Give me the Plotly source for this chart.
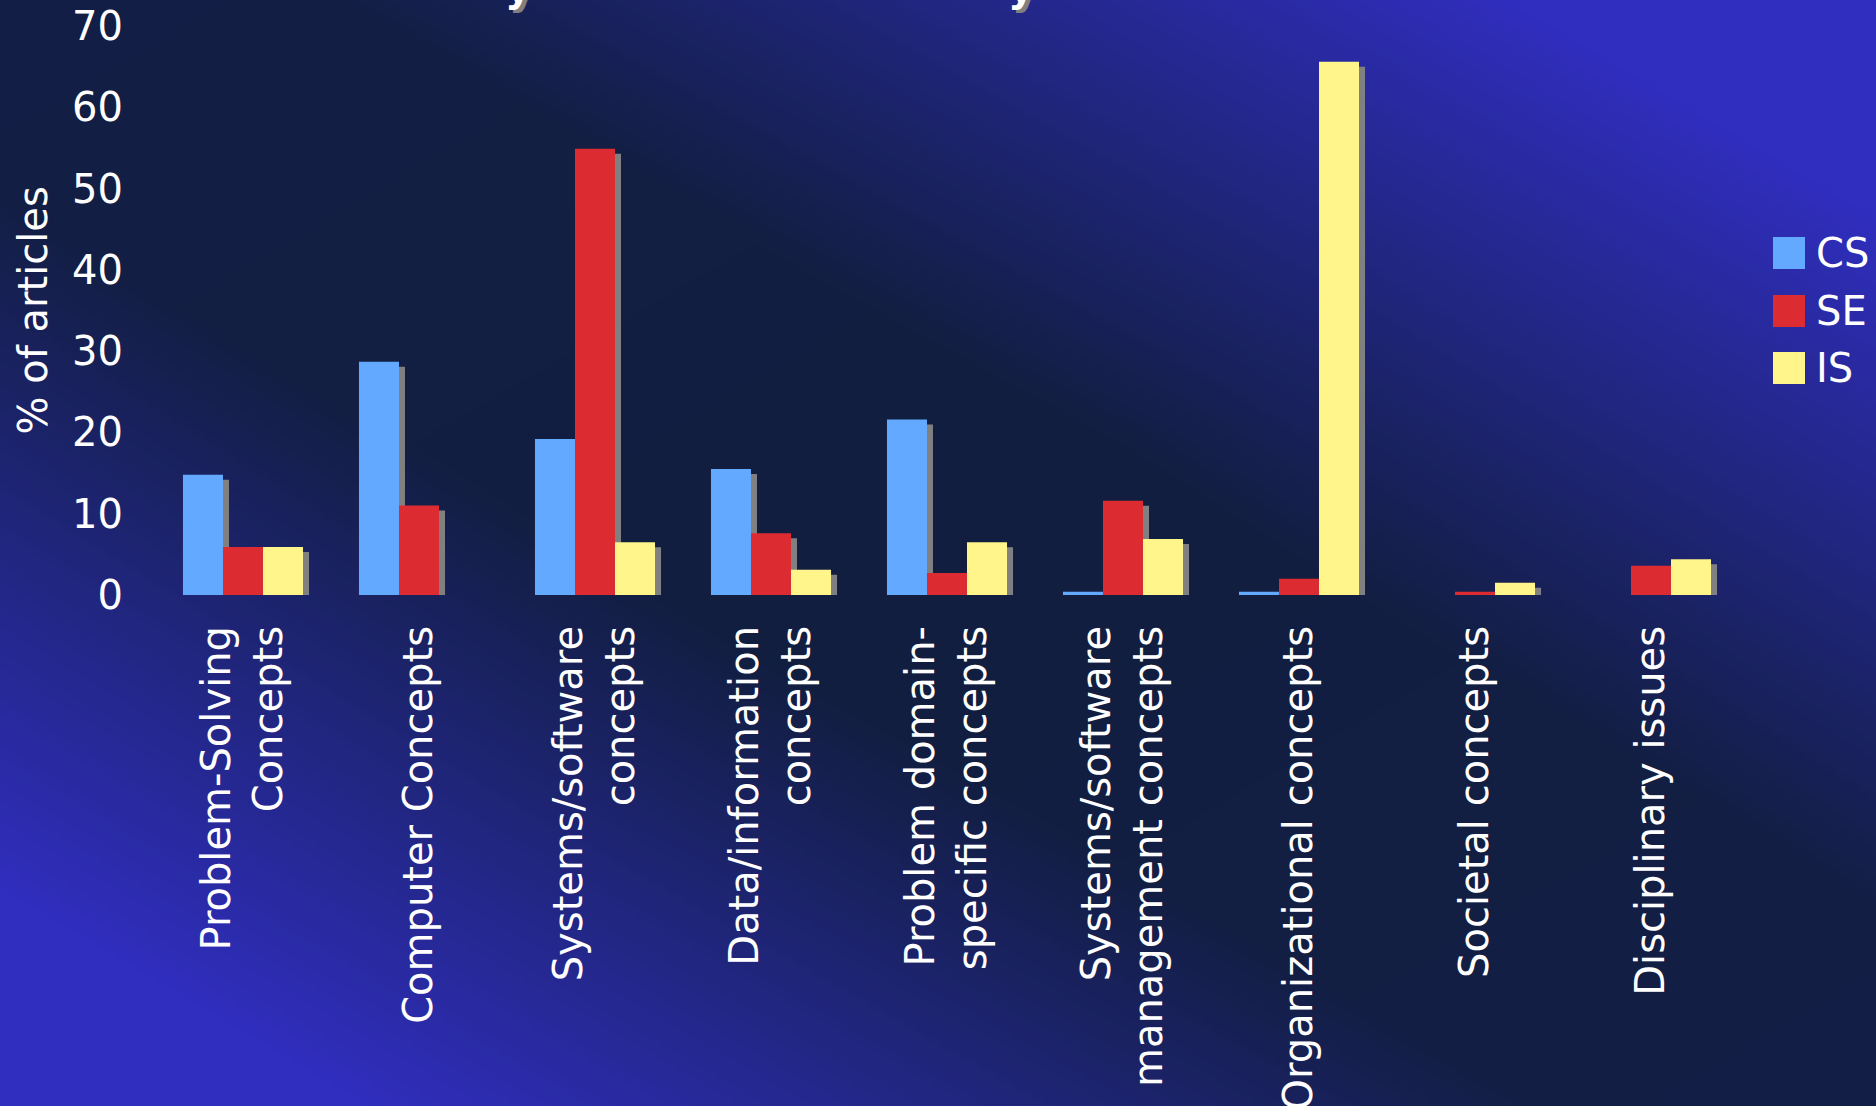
import zlib, struct, base64
import numpy as np
import plotly.graph_objects as go

# ---------------- data ----------------
categories = [
    "Problem-Solving<br>Concepts",
    "Computer Concepts",
    "Systems/software<br>concepts",
    "Data/information<br>concepts",
    "Problem domain-<br>specific concepts",
    "Systems/software<br>management concepts",
    "Organizational concepts",
    "Societal concepts",
    "Disciplinary issues",
]
series_names = ["CS", "SE", "IS"]
cs_values = [14.8, 28.7, 19.2, 15.5, 21.6, 0.4, 0.4, None, None]
se_values = [5.9, 11.0, 54.9, 7.6, 2.7, 11.6, 2.0, 0.4, 3.6]
is_values = [5.9, None, 6.5, 3.1, 6.5, 6.9, 65.6, 1.5, 4.4]
y_ticks = [0, 10, 20, 30, 40, 50, 60, 70]
y_title = "% of articles"

# ---------------- style ----------------
W, H = 1876, 1106
ML, MR, MT, MB = 155, 137, 26, 511
PW, PH = W - ML - MR, H - MT - MB
YMAX = 70
colors = ["#63a9ff", "#dd2c31", "#fff58a"]
shadow_color = "#808080"
FONT = "DejaVu Sans, Verdana, sans-serif"
FS = 40
n = len(categories)
cat_px = PW / n
dx = 6 / cat_px            # shadow offset right (category units)
dy = 5 / (PH / YMAX)       # shadow offset down (value units)


def px_x(x):
    return (x - ML) / PW


def px_y(y):
    return (H - MB - y) / PH


# ---------------- gradient background as PNG ----------------
gw, gh = 469, 277
xs = (np.arange(gw) + 0.5) / gw
ys = (np.arange(gh) + 0.5) / gh
X, Y = np.meshgrid(xs, ys)
v = np.abs(X - Y)
t = np.clip((v - 0.18) / 0.62, 0, 1)
s = np.abs(X + Y - 1) * (1 - t)
dark = np.array([18, 30, 63], float)
bright = np.array([48, 46, 190], float)
img = dark[None, None, :] + (bright - dark)[None, None, :] * t[..., None]
img[..., 2] += 8 * s
img[..., 1] += 1 * s
img[..., 0] += 2 * s
img = np.clip(img, 0, 255).astype(np.uint8)


def png_bytes(arr):
    h, w, _ = arr.shape
    raw = b"".join(b"\x00" + arr[i].tobytes() for i in range(h))

    def chunk(tag, data):
        c = struct.pack(">I", len(data)) + tag + data
        return c + struct.pack(">I", zlib.crc32(tag + data) & 0xffffffff)

    return (b"\x89PNG\r\n\x1a\n"
            + chunk(b"IHDR", struct.pack(">IIBBBBB", w, h, 8, 2, 0, 0, 0))
            + chunk(b"IDAT", zlib.compress(raw, 9))
            + chunk(b"IEND", b""))


bg_src = "data:image/png;base64," + base64.b64encode(png_bytes(img)).decode()

# ---------------- figure ----------------
fig = go.Figure()
all_values = [cs_values, se_values, is_values]

# shadows (base axes, drawn beneath)
for name, vals in zip(series_names, all_values):
    fig.add_trace(go.Bar(x=categories, y=vals, name=name + " shadow",
                         marker=dict(color=shadow_color, line=dict(width=0)),
                         showlegend=False, hoverinfo="skip",
                         xaxis="x", yaxis="y"))
# real bars (overlay axes)
for name, vals, col in zip(series_names, all_values, colors):
    fig.add_trace(go.Bar(x=categories, y=vals, name=name,
                         marker=dict(color=col, line=dict(width=0)),
                         showlegend=False, xaxis="x2", yaxis="y2"))

axis_common = dict(showgrid=False, zeroline=False, showline=False, automargin=False)
fig.update_layout(
    width=W, height=H,
    margin=dict(l=ML, r=MR, t=MT, b=MB),
    paper_bgcolor="#141f48",
    plot_bgcolor="rgba(0,0,0,0)",
    barmode="group", bargap=0.318, bargroupgap=0,
    font=dict(family=FONT, size=FS, color="white"),
    showlegend=False,
    xaxis=dict(**axis_common, type="category", categoryorder="array",
               categoryarray=categories, range=[-0.5 - dx, n - 0.5 - dx],
               showticklabels=False, ticks=""),
    yaxis=dict(**axis_common, range=[dy, YMAX + dy], showticklabels=False, ticks=""),
    xaxis2=dict(**axis_common, type="category", categoryorder="array",
                categoryarray=categories, range=[-0.5, n - 0.5],
                overlaying="x", anchor="y2", side="bottom",
                tickangle=-90, ticks="", ticklabelstandoff=22,
                tickfont=dict(family=FONT, size=FS, color="white")),
    yaxis2=dict(**axis_common, range=[0, YMAX], overlaying="y", anchor="x2",
                side="left", tickvals=y_ticks, ticks="", ticklabelstandoff=31,
                tickfont=dict(family=FONT, size=FS, color="white")),
    images=[dict(source=bg_src, xref="paper", yref="paper",
                 x=px_x(0), y=px_y(0), sizex=W / PW, sizey=H / PH,
                 xanchor="left", yanchor="top", sizing="stretch",
                 layer="below", opacity=1)],
)

annotations = [
    dict(text=y_title, xref="paper", yref="paper", x=px_x(32), y=0.5,
         xanchor="center", yanchor="middle", textangle=-90, showarrow=False,
         font=dict(family=FONT, size=FS, color="white")),
]
shapes = []
leg_tops = [237, 295, 352]
for name, col, top in zip(series_names, colors, leg_tops):
    shapes.append(dict(type="rect", xref="paper", yref="paper",
                       x0=px_x(1773), x1=px_x(1805), y0=px_y(top + 32), y1=px_y(top),
                       fillcolor=col, line=dict(width=0)))
    annotations.append(dict(text=name, xref="paper", yref="paper",
                            x=px_x(1814), y=px_y(top + 16), xanchor="left",
                            yanchor="middle", showarrow=False,
                            font=dict(family=FONT, size=FS, color="white")))
# descender fragments of the cropped slide title
for cx in [518, 1021]:
    annotations.append(dict(text="<b>y</b>", xref="paper", yref="paper",
                            x=px_x(cx), y=px_y(12), xanchor="center",
                            yanchor="bottom", showarrow=False,
                            font=dict(family=FONT, size=40, color="white",
                                      shadow="4px 3px 0px #808080")))
fig.update_layout(annotations=annotations, shapes=shapes)

fig.write_html(
    "out.html",
    config={"displayModeBar": False},
    post_script="document.body.style.margin='0';document.body.style.overflow='hidden';",
)
